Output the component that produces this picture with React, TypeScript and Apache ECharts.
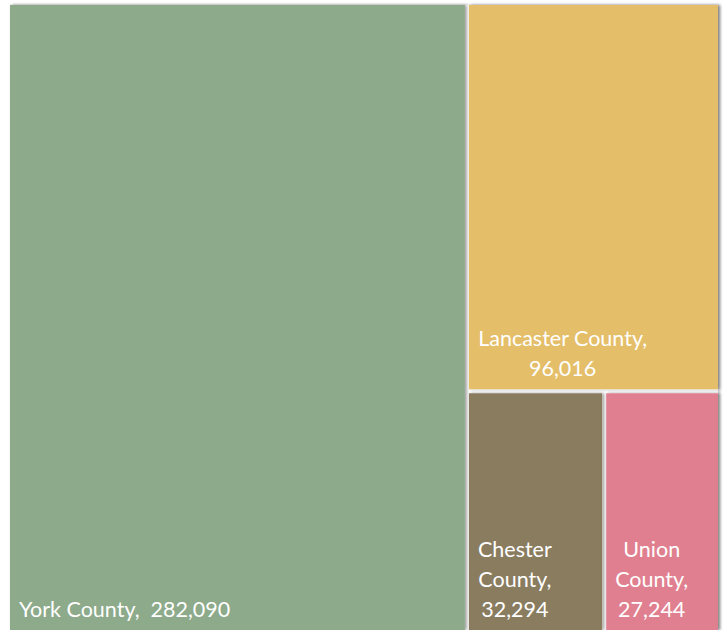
import React, { useEffect, useRef } from "react";
import * as echarts from "echarts";

const counties = ["York County", "Lancaster County", "Chester County", "Union County"];
const populations = [282090, 96016, 32294, 27244];
const colors = ["#8DAA8B", "#E4BE69", "#8A7B5F", "#E07F8F"];
const wrapName = [false, false, true, true];

const FONT = "Lato";
const FONT_SIZE = 21.5;

export default function App() {
  const ref = useRef<HTMLDivElement>(null);
  useEffect(() => {
    const chart = echarts.init(ref.current!, null, { renderer: "svg" });
    const fmt = (v: number) => v.toLocaleString("en-US");
    const ctx = document.createElement("canvas").getContext("2d")!;
    ctx.font = `${FONT_SIZE}px ${FONT}`;
    const data = counties.map((name, i) => {
      const lines = wrapName[i]
        ? [...name.split(" ").map((w, k, arr) => (k === arr.length - 1 ? w + "," : w)), fmt(populations[i])]
        : i === 0
        ? [name + ",  " + fmt(populations[i])]
        : [name + ",", fmt(populations[i])];
      const maxW = Math.max(...lines.map((l) => ctx.measureText(l).width));
      const text = lines.join("\n");
      return {
        name,
        value: populations[i],
        itemStyle: { color: colors[i] },
        label: {
          formatter: () => text,
          position: [9 + maxW / 2, "100%"],
        },
      };
    });
    chart.setOption({
      animation: false,
      series: [
        {
          type: "treemap",
          left: 10,
          top: 5,
          right: 5,
          bottom: 0,
          roam: false,
          nodeClick: false,
          squareRatio: 1,
          breadcrumb: { show: false },
          itemStyle: {
            gapWidth: 4,
            borderWidth: 0,
            shadowBlur: 3,
            shadowColor: "rgba(0,0,0,0.2)",
            shadowOffsetX: 2,
            shadowOffsetY: 0,
          },
          levels: [{ itemStyle: { gapWidth: 4, borderWidth: 0 } }],
          label: {
            show: true,
            distance: 0,
            padding: 0,
            offset: [0, -6],
            align: "center",
            verticalAlign: "bottom",
            overflow: "none",
            color: "#fff",
            fontFamily: FONT,
            fontSize: FONT_SIZE,
            lineHeight: 30,
          },
          data,
        },
      ],
    });
    return () => chart.dispose();
  }, []);
  return (
    <div
      ref={ref}
      style={{ position: "fixed", left: 0, top: 0, width: 723, height: 630, background: "#fff" }}
    />
  );
}
